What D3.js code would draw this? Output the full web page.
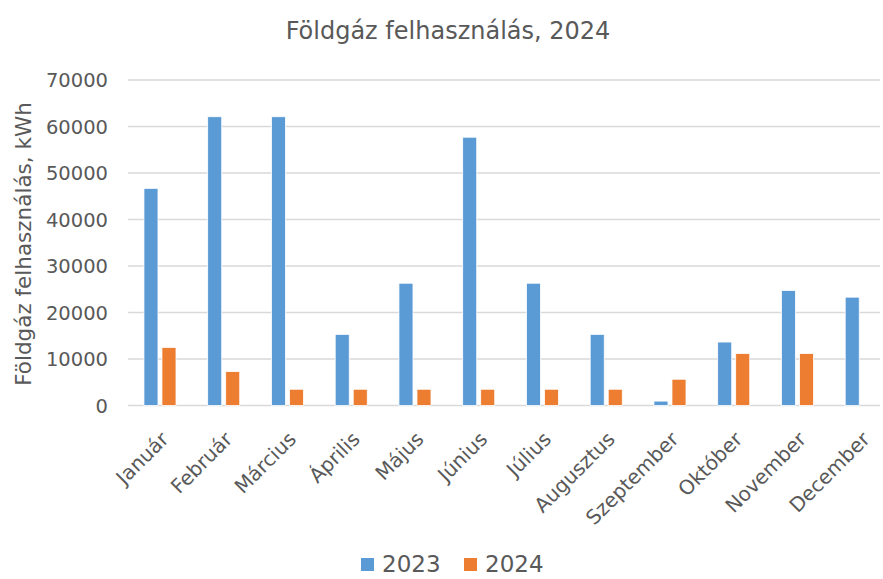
<!DOCTYPE html>
<html>
<head>
<meta charset="utf-8">
<script src="https://cdn.jsdelivr.net/npm/d3@7"></script>
<style>
  body { margin: 0; background: #fff; }
  text { font-family: "DejaVu Sans", "Liberation Sans", Arial, sans-serif; fill: #595959; }
</style>
</head>
<body>
<svg id="chart" width="883" height="579"></svg>
<script>
// Chart data
const months = ["Január", "Február", "Március", "Április", "Május", "Június",
                "Július", "Augusztus", "Szeptember", "Október", "November", "December"];
const seriesNames = ["2023", "2024"];
const values2023 = [46700, 62100, 62100, 15300, 26300, 57700, 26300, 15300, 950, 13650, 24750, 23300];
const values2024 = [12500, 7300, 3500, 3500, 3500, 3500, 3500, 3500, 5650, 11200, 11200, 0];
const yTicks = [0, 10000, 20000, 30000, 40000, 50000, 60000, 70000];
const colors = ["#5b9bd5", "#ed7d31"];

const svg = d3.select("#chart");

// plot area (category range runs a bit past the right edge, as in the original)
const plotLeft = 128, plotRight = 893, gridRight = 880, plotTop = 80, plotBottom = 405.5;

const x0 = d3.scaleBand().domain(months).range([plotLeft, plotRight]).padding(0);
const x1 = d3.scaleBand().domain(seriesNames)
    .range([x0.bandwidth() * 0.25, x0.bandwidth() * 0.753])
    .paddingInner(0.22).paddingOuter(0);
const y = d3.scaleLinear().domain([0, 70000]).range([plotBottom, plotTop]);

// gridlines
svg.append("g")
    .selectAll("line")
    .data(yTicks)
    .join("line")
    .attr("x1", plotLeft)
    .attr("x2", gridRight)
    .attr("y1", d => y(d))
    .attr("y2", d => y(d))
    .attr("stroke", "#d9d9d9")
    .attr("stroke-width", 1.5);

// y tick labels
svg.append("g")
    .selectAll("text")
    .data(yTicks)
    .join("text")
    .attr("x", 108)
    .attr("y", d => y(d))
    .attr("dy", "0.36em")
    .attr("text-anchor", "end")
    .style("font-size", "19.5px")
    .text(d => d);

// bars
const rows = months.map((m, i) => ({ month: m, vals: [values2023[i], values2024[i]] }));

const groups = svg.append("g")
    .selectAll("g")
    .data(rows)
    .join("g")
    .attr("transform", d => `translate(${x0(d.month)},0)`);

groups.selectAll("rect")
    .data(d => d.vals.map((v, k) => ({ key: seriesNames[k], value: v, k })).filter(d => d.value > 0))
    .join("rect")
    .attr("x", d => x1(d.key))
    .attr("width", x1.bandwidth())
    .attr("y", d => y(d.value))
    .attr("height", d => y(0) - y(d.value))
    .attr("fill", d => colors[d.k])
    .attr("stroke", "#fff")
    .attr("stroke-width", 0.8);

// x labels, rotated
svg.append("g")
    .selectAll("text")
    .data(months)
    .join("text")
    .attr("transform", d => `translate(${x0(d) + x0.bandwidth() / 2 + 5},${plotBottom + 30}) rotate(-45)`)
    .attr("text-anchor", "end")
    .attr("dy", "0.35em")
    .style("font-size", "20px")
    .text(d => d);

// title
svg.append("text")
    .attr("x", 448)
    .attr("y", 39)
    .attr("text-anchor", "middle")
    .style("font-size", "24px")
    .text("Földgáz felhasználás, 2024");

// y axis title
svg.append("text")
    .attr("transform", "translate(31,244) rotate(-90)")
    .attr("text-anchor", "middle")
    .style("font-size", "21.5px")
    .text("Földgáz felhasználás, kWh");

// legend
const legend = svg.append("g")
    .selectAll("g")
    .data(seriesNames)
    .join("g")
    .attr("transform", (d, i) => `translate(${361 + i * 103},558)`);

legend.append("rect")
    .attr("width", 13)
    .attr("height", 13)
    .attr("fill", (d, i) => colors[i]);

legend.append("text")
    .attr("x", 21)
    .attr("y", 14)
    .style("font-size", "23px")
    .text(d => d);
</script>
</body>
</html>
